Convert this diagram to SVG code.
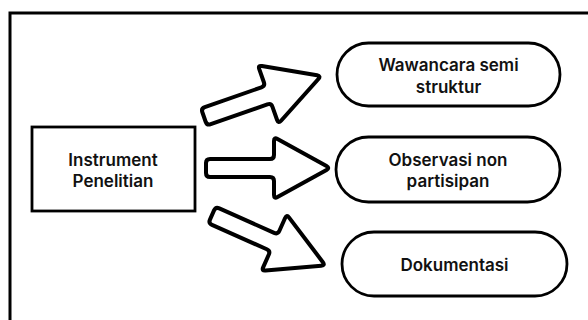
<svg xmlns="http://www.w3.org/2000/svg" width="588" height="320" viewBox="0 0 588 320">
<style>
.frame{fill:none;stroke:#000;stroke-width:3}
.box{fill:#fff;stroke:#000;stroke-width:2.8}
.arrow{fill:#fff;stroke:#000;stroke-width:4;stroke-linejoin:round}
.t{font-family:Inter,"Liberation Sans",sans-serif;font-size:17px;font-weight:600;fill:#111;text-anchor:middle}
</style>
<defs>
<path id="arr" d="M0,-5 Q0,-9 4,-9 H64 Q68,-9 68,-13 V-27 Q68,-31 71.5,-29 L120.5,-2 Q124,0 120.5,2 L71.5,29 Q68,31 68,27 V13 Q68,9 64,9 H4 Q0,9 0,5 Z"/>
</defs>
<rect class="frame" x="10" y="13" width="600" height="330"/>
<g id="connectors">
<use href="#arr" class="arrow" transform="translate(204,117) rotate(-19.3)"/>
<use href="#arr" class="arrow" transform="translate(206,168)"/>
<use href="#arr" class="arrow" transform="translate(212,215) rotate(24)"/>
</g>
<g id="instrument">
<rect class="box" x="32" y="127" width="163" height="84"/>
<text class="t" x="113" y="166">Instrument</text>
<text class="t" x="113" y="187">Penelitian</text>
</g>
<g id="wawancara">
<rect class="box" x="337" y="43" width="223" height="63" rx="31.5"/>
<text class="t" x="448.5" y="71">Wawancara semi</text>
<text class="t" x="448.5" y="93">struktur</text>
</g>
<g id="observasi">
<rect class="box" x="336" y="137" width="224" height="65" rx="32.5"/>
<text class="t" x="448" y="166">Observasi non</text>
<text class="t" x="448" y="187">partisipan</text>
</g>
<g id="dokumentasi">
<rect class="box" x="342" y="232" width="225" height="64" rx="32"/>
<text class="t" x="454.5" y="271">Dokumentasi</text>
</g>
</svg>
